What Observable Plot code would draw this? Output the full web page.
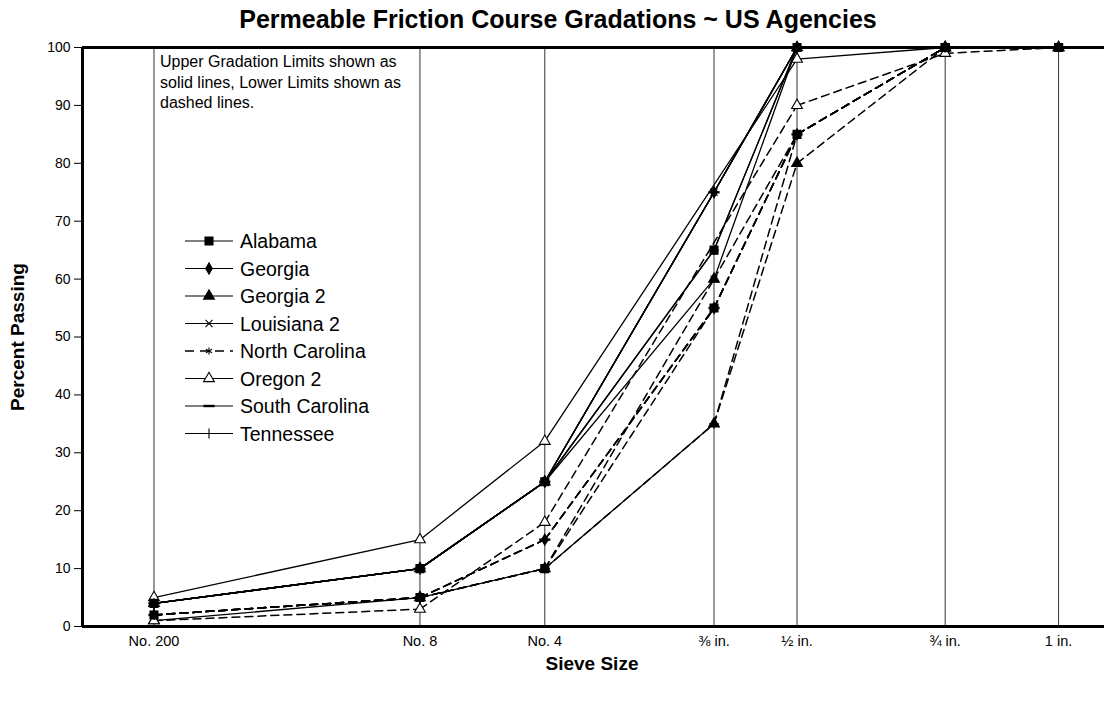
<!DOCTYPE html>
<html>
<head>
<meta charset="utf-8">
<script src="https://cdn.jsdelivr.net/npm/d3@7"></script>
<script src="https://cdn.jsdelivr.net/npm/@observablehq/plot@0.6"></script>
<style>
  html, body { margin: 0; padding: 0; background: #fff; }
  svg { display: block; }
</style>
</head>
<body>
<div id="chart"></div>
<script>
// ---------- DATA ----------
const sieveLabels = ["No. 200", "No. 8", "No. 4", "⅜ in.", "½ in.", "¾ in.", "1 in."];
const sieveSizesMm = [0.075, 2.36, 4.75, 9.5, 12.5, 19.0, 25.0];

const states = ["Alabama", "Georgia", "Georgia 2", "Louisiana 2", "North Carolina", "Oregon 2", "South Carolina", "Tennessee"];

// percent passing, one value per sieve (null = not specified)
const upperAlabama       = [4, 10, 25, 65, 100, 100, 100];
const lowerAlabama       = [2, 5, 10, 55, 85, 100, 100];
const upperGeorgia       = [4, 10, 25, 75, 100, 100, null];
const lowerGeorgia       = [2, 5, 15, 55, 85, 100, null];
const upperGeorgia2      = [4, 10, 25, 60, 100, 100, null];
const lowerGeorgia2      = [1, 5, 10, 35, 80, 100, null];
const upperLouisiana2    = [4, 10, 25, 75, 100, 100, null];
const lowerLouisiana2    = [2, 5, 10, 60, 85, 100, null];
const upperNorthCarolina = [4, 10, 25, 75, 100, 100, null];
const lowerNorthCarolina = [2, 5, 15, 55, 85, 100, null];
const upperOregon2       = [5, 15, 32, null, 98, 100, 100];
const lowerOregon2       = [1, 3, 18, null, 90, 99, 100];
const upperSouthCarolina = [4, 10, 25, 75, 100, 100, null];
const lowerSouthCarolina = [2, 5, 15, 55, 85, 100, null];
const upperTennessee     = [4, 10, 25, 65, 100, 100, null];
const lowerTennessee     = [2, 5, 10, 35, 85, 100, null];

const yTicks = [0, 10, 20, 30, 40, 50, 60, 70, 80, 90, 100];

const upperLimits = [upperAlabama, upperGeorgia, upperGeorgia2, upperLouisiana2, upperNorthCarolina, upperOregon2, upperSouthCarolina, upperTennessee];
const lowerLimits = [lowerAlabama, lowerGeorgia, lowerGeorgia2, lowerLouisiana2, lowerNorthCarolina, lowerOregon2, lowerSouthCarolina, lowerTennessee];

// ---------- STYLE ----------
const FONT = "'Liberation Sans', Arial, Helvetica, sans-serif";
const dashSymbol = { draw(ctx, size) { const w = Math.sqrt(size) * 0.7; ctx.moveTo(-w, -1.2); ctx.lineTo(w, -1.2); ctx.lineTo(w, 1.2); ctx.lineTo(-w, 1.2); ctx.closePath(); } };
const symbolMap = {
  square: d3.symbolSquare, diamond: d3.symbolDiamond, triangle: d3.symbolTriangle,
  times: d3.symbolTimes, asterisk: d3.symbolAsterisk, plus: d3.symbolPlus
};
const markerStyle = {
  "Alabama":        { symbol: "square",   fill: "black", stroke: "black", r: 4.5 },
  "Georgia":        { symbol: "diamond",  fill: "black", stroke: "black", r: 3.4 },
  "Georgia 2":      { symbol: "triangle", fill: "black", stroke: "black", r: 4.0 },
  "Louisiana 2":    { symbol: "times",    fill: "none",  stroke: "black", r: 3.3 },
  "North Carolina": { symbol: "asterisk", fill: "none",  stroke: "black", r: 3.3 },
  "Oregon 2":       { symbol: "triangle", fill: "white", stroke: "black", r: 4.0 },
  "South Carolina": { symbol: dashSymbol, fill: "black", stroke: "none",  r: 4.5 },
  "Tennessee":      { symbol: "plus",     fill: "none",  stroke: "black", r: 3.3 }
};
// Georgia 2 lower limit is drawn solid up to the ⅜ in. sieve in the original
const lowerSolidThrough = { "Georgia 2": 3 };
// draw order (squares end up on top)
const drawOrder = ["Georgia", "Georgia 2", "Louisiana 2", "North Carolina", "Oregon 2", "South Carolina", "Tennessee", "Alabama"];

// ---------- BUILD ROWS ----------
const gx = mm => Math.pow(mm, 0.45);   // 0.45 power gradation axis
const sieveX = sieveSizesMm.map(gx);

const points = [];
const segments = [];
states.forEach((st, si) => {
  [["upper", upperLimits[si]], ["lower", lowerLimits[si]]].forEach(([bound, vals]) => {
    const pts = [];
    vals.forEach((v, k) => { if (v != null) pts.push({ state: st, bound, k, x: sieveX[k], y: v }); });
    points.push(...pts);
    for (let j = 0; j < pts.length - 1; j++) {
      const a = pts[j], b = pts[j + 1];
      let dashed = bound === "lower";
      if (bound === "lower" && lowerSolidThrough[st] != null && b.k <= lowerSolidThrough[st]) dashed = false;
      const id = `${st}|${bound}|${j}`;
      segments.push({ id, state: st, dashed, x: a.x, y: a.y }, { id, state: st, dashed, x: b.x, y: b.y });
    }
  });
});

// ---------- PLOT ----------
const W = 1104, H = 702;
const mL = 82, mT = 47, mB = 76;
const xMax = 4.457;

const marks = [
  Plot.gridX(sieveX, { stroke: "#111", strokeOpacity: 0.85, strokeWidth: 1 }),
  Plot.axisY({ ticks: yTicks, tickSize: 8, tickPadding: 4, fontSize: 14, tickFormat: d => d, label: null }),
  Plot.axisX({ ticks: sieveX, tickSize: 0, tickPadding: 9, fontSize: 14.5, tickFormat: (d, i) => sieveLabels[i], label: null }),
  Plot.line(segments.filter(d => !d.dashed), { x: "x", y: "y", z: "id", stroke: "black", strokeWidth: 1.3 }),
  Plot.line(segments.filter(d => d.dashed), { x: "x", y: "y", z: "id", stroke: "black", strokeWidth: 1.5, strokeDasharray: "8,5" })
];
drawOrder.forEach(st => {
  const s = markerStyle[st];
  marks.push(Plot.dot(points.filter(p => p.state === st), {
    x: "x", y: "y", symbol: s.symbol, fill: s.fill, stroke: s.stroke, strokeWidth: 1.1, r: s.r
  }));
});
marks.push(Plot.ruleY([0, 100], { stroke: "black", strokeWidth: 3 }));
marks.push(Plot.ruleX([0], { stroke: "black", strokeWidth: 3 }));

const chart = Plot.plot({
  width: W, height: H,
  marginLeft: mL, marginRight: 0, marginTop: mT, marginBottom: mB,
  style: { fontFamily: FONT, color: "black", background: "white", overflow: "visible" },
  x: { domain: [0, xMax], axis: null },
  y: { domain: [0, 100], axis: null },
  marks
});
document.getElementById("chart").appendChild(chart);

// ---------- TEXT & LEGEND ----------
const svg = d3.select(chart);
const g = svg.append("g").attr("font-family", FONT).attr("fill", "black").attr("text-anchor", "start");

g.append("text").attr("x", 558).attr("y", 28).attr("text-anchor", "middle")
  .attr("font-size", 25).attr("font-weight", "bold")
  .text("Permeable Friction Course Gradations ~ US Agencies");

g.append("text").attr("transform", "translate(24,337) rotate(-90)").attr("text-anchor", "middle")
  .attr("font-size", 19).attr("font-weight", "bold").text("Percent Passing");

g.append("text").attr("x", 592).attr("y", 670).attr("text-anchor", "middle")
  .attr("font-size", 19).attr("font-weight", "bold").text("Sieve Size");

const noteLines = ["Upper Gradation Limits shown as", "solid lines, Lower Limits shown as", "dashed lines."];
noteLines.forEach((t, i) => g.append("text").attr("x", 160).attr("y", 67 + i * 20.5)
  .attr("text-anchor", "start").attr("font-size", 16).text(t));

// legend
const lg = g.append("g");
states.forEach((st, i) => {
  const y = 241 + i * 27.5;
  const s = markerStyle[st];
  const nc = st === "North Carolina";
  lg.append("line").attr("x1", 185).attr("x2", 233).attr("y1", y).attr("y2", y)
    .attr("stroke", "black").attr("stroke-width", nc ? 1.6 : 1.2)
    .attr("stroke-dasharray", nc ? "9,6" : null);
  const symObj = (typeof s.symbol === "string") ? symbolMap[s.symbol] : s.symbol;
  lg.append("path").attr("transform", `translate(209,${y})`)
    .attr("d", d3.symbol(symObj, Math.PI * s.r * s.r)())
    .attr("fill", s.fill === "none" ? "none" : s.fill).attr("stroke", s.stroke).attr("stroke-width", 1.1);
  lg.append("text").attr("x", 240).attr("y", y).attr("dy", "0.36em")
    .attr("text-anchor", "start").attr("font-size", 19.5).text(st);
});
</script>
</body>
</html>
